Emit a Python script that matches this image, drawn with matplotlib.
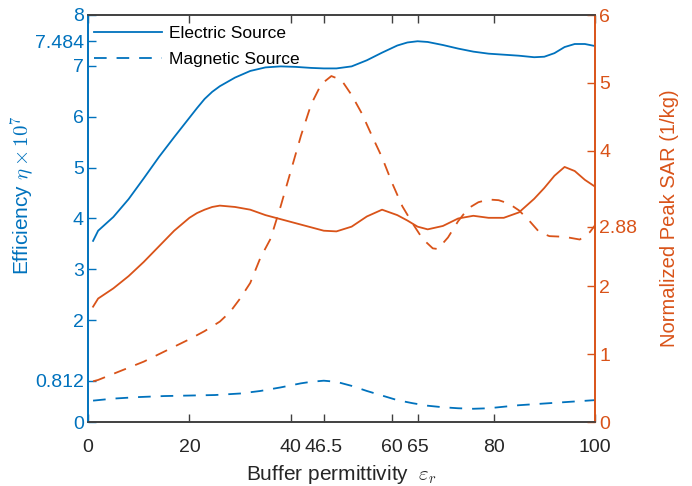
import matplotlib
matplotlib.use("Agg")
import matplotlib.pyplot as plt

plt.rcParams['font.family'] = ['Liberation Sans', 'DejaVu Sans']
plt.rcParams['mathtext.fontset'] = 'cm'

BLUE = '#0072BD'
ORANGE = '#D95319'
GRAY = '#404040'

# electric source (efficiency on left axis, SAR on right axis)
eps_elec = [1, 2, 5, 8, 11, 14, 17, 20, 21.5, 23, 24.5, 26, 29, 32, 35, 38, 41, 44, 46.5, 49,
            52, 55, 58, 61, 63, 65, 67, 70, 73, 76, 79, 82, 85, 88, 90, 92, 94, 96, 98, 100]
eff_elec = [3.56, 3.76, 4.03, 4.38, 4.79, 5.21, 5.60, 5.98, 6.17, 6.35, 6.49, 6.60, 6.77, 6.90,
            6.97, 6.99, 6.98, 6.96, 6.95, 6.95, 6.99, 7.11, 7.26, 7.40, 7.46, 7.484, 7.47, 7.41,
            7.34, 7.28, 7.24, 7.22, 7.20, 7.17, 7.18, 7.25, 7.37, 7.43, 7.43, 7.39]
sar_elec = [1.70, 1.82, 1.97, 2.15, 2.36, 2.59, 2.82, 3.01, 3.08, 3.13, 3.17, 3.19, 3.17, 3.13,
            3.05, 2.99, 2.93, 2.87, 2.82, 2.81, 2.88, 3.03, 3.13, 3.05, 2.97, 2.88, 2.84, 2.89,
            3.00, 3.04, 3.01, 3.01, 3.09, 3.29, 3.45, 3.63, 3.76, 3.70, 3.57, 3.47]

# magnetic source
eps_mag_sar = [1, 2, 5, 8, 11, 14, 17, 20, 23, 26, 28, 30, 32, 34, 36, 38, 40, 42, 44,
               46, 48, 50, 52, 54, 56, 58, 60, 62, 64, 66, 68, 69, 71, 73, 75, 77, 79,
               81, 83, 85, 87, 89, 91, 94, 97, 99, 100]
sar_mag = [0.60, 0.62, 0.71, 0.80, 0.89, 1.00, 1.11, 1.22, 1.34, 1.48, 1.62, 1.82, 2.05,
           2.42, 2.70, 3.18, 3.70, 4.22, 4.68, 4.98, 5.10, 5.04, 4.82, 4.55, 4.22, 3.90,
           3.52, 3.18, 2.93, 2.70, 2.56, 2.55, 2.72, 2.96, 3.15, 3.24, 3.28, 3.27, 3.22,
           3.12, 2.97, 2.80, 2.74, 2.73, 2.69, 2.80, 2.90]
eps_mag_eff = [1, 5, 10, 15, 20, 25, 30, 34, 38, 42, 44, 46.5, 49, 52, 55, 58, 61, 64,
               67, 70, 73, 76, 79, 82, 85, 88, 91, 94, 97, 100]
eff_mag = [0.42, 0.46, 0.49, 0.51, 0.52, 0.53, 0.56, 0.61, 0.68, 0.76, 0.79, 0.812, 0.79,
           0.71, 0.61, 0.52, 0.43, 0.37, 0.32, 0.29, 0.27, 0.26, 0.27, 0.30, 0.33, 0.35,
           0.37, 0.39, 0.41, 0.43]

xticks = [0, 20, 40, 46.5, 60, 65, 80, 100]
xticklabels = ['0', '20', '40', '46.5', '60', '65', '80', '100']
left_ticks = [0, 0.812, 2, 3, 4, 5, 6, 7, 7.484, 8]
left_labels = ['0', '0.812', '2', '3', '4', '5', '6', '7', '7.484', '8']
right_ticks = [0, 1, 2, 2.88, 4, 5, 6]
right_labels = ['0', '1', '2', '2.88', '4', '5', '6']

fig = plt.figure(figsize=(6.92, 4.86), dpi=100)
ax = fig.add_axes([88 / 692, 64 / 486, 507 / 692, 407 / 486])
ax2 = ax.twinx()

lw = 1.3
dash = (7, 5.5)
l1, = ax.plot(eps_elec, eff_elec, color=BLUE, lw=lw, label='Electric Source')
l2, = ax.plot(eps_mag_eff, eff_mag, color=BLUE, lw=lw, dashes=dash, label='Magnetic Source')
ax2.plot(eps_elec, sar_elec, color=ORANGE, lw=lw)
ax2.plot(eps_mag_sar, sar_mag, color=ORANGE, lw=lw, dashes=dash)

ax.set_xlim(0, 100)
ax.set_ylim(0, 8)
ax2.set_ylim(0, 6)

ax.set_xticks(xticks)
ax.set_xticklabels(xticklabels)
ax.set_yticks(left_ticks)
ax.set_yticklabels(left_labels)
ax2.set_yticks(right_ticks)
ax2.set_yticklabels(right_labels)

fs_tick = 14
ax.tick_params(axis='x', direction='in', top=True, length=6, width=1, color=GRAY,
               labelsize=fs_tick, labelcolor='#262626', pad=12)
ax.tick_params(axis='y', direction='in', length=6, width=1, color=BLUE,
               labelcolor=BLUE, labelsize=fs_tick, pad=3)
ax2.tick_params(axis='y', direction='in', length=6, width=1, color=ORANGE,
                labelcolor=ORANGE, labelsize=fs_tick, pad=3)

for a in (ax, ax2):
    a.spines['top'].set_color(GRAY)
    a.spines['bottom'].set_color(GRAY)
    a.spines['left'].set_color(BLUE)
    a.spines['right'].set_color(ORANGE)
    for s in a.spines.values():
        s.set_linewidth(1.2)

ax.set_xlabel(r'Buffer permittivity  $\varepsilon_r$', fontsize=15, color='#262626')
ax.xaxis.set_label_coords(0.5, -0.1)
ax.set_ylabel(r'Efficiency $\eta\times10^7$', fontsize=15, color=BLUE)
ax.yaxis.set_label_coords(-0.101, 0.558)
ax2.set_ylabel('Normalized Peak SAR (1/kg)', fontsize=14.5, color=ORANGE)
ax2.yaxis.set_label_coords(1.128, 0.5)

ax.legend(handles=[l1, l2], loc='upper left', bbox_to_anchor=(-0.01, 1.0), frameon=False,
          fontsize=12.5, handlelength=3.9, handletextpad=0.4, labelspacing=0.58,
          borderaxespad=0.35, borderpad=0.3)

fig.savefig('out.png', dpi=100)
